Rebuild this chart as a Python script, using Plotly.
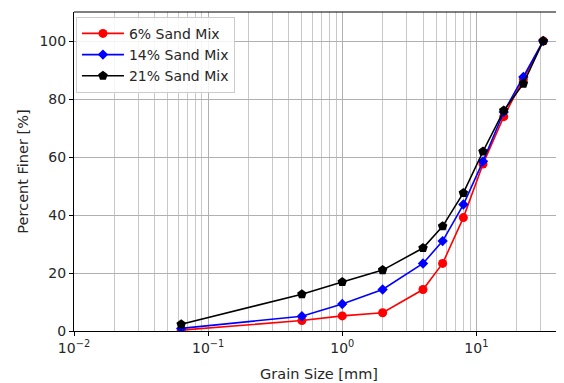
import numpy as np
import plotly.graph_objects as go

grain_size = [0.063, 0.5, 1, 2, 4, 5.6, 8, 11.2, 16, 22.4, 31.5]
sand6 = [0.3, 3.6, 5.2, 6.3, 14.3, 23.3, 39.1, 57.6, 73.9, 86.7, 100]
sand14 = [0.9, 5.1, 9.3, 14.3, 23.3, 31.0, 43.6, 58.5, 75.5, 87.6, 100]
sand21 = [2.3, 12.7, 16.9, 21.0, 28.6, 36.1, 47.6, 61.9, 76.0, 85.3, 100]
series_names = ["6% Sand Mix", "14% Sand Mix", "21% Sand Mix"]
x_tick_vals = [0.01, 0.1, 1, 10, 100]
x_tick_text = ["10<sup>−2</sup>", "10<sup>−1</sup>", "10<sup>0</sup>", "10<sup>1</sup>", "10<sup>2</sup>"]
y_tick_vals = [0, 20, 40, 60, 80, 100]

minor_vals = [m * 10.0 ** e for e in range(-2, 2) for m in range(2, 10)]

fig = go.Figure()
styles = [("red", "circle", 9), ("blue", "diamond", 8), ("black", "pentagon", 10)]
for name, ys, (c, sym, sz) in zip(series_names, [sand6, sand14, sand21], styles):
    fig.add_trace(go.Scatter(x=grain_size, y=ys, mode="lines+markers", name=name,
                             line=dict(color=c, width=1.6),
                             marker=dict(color=c, symbol=sym, size=sz, line=dict(width=0))))

# page body has an 8px margin; size the figure so the plot lands where the reference has it
fig.update_layout(
    width=556, height=375,
    margin=dict(l=66, r=0, t=4, b=52),
    paper_bgcolor="white", plot_bgcolor="white",
    font=dict(family="DejaVu Sans", size=14, color="#262626"),
    legend=dict(x=0.004, y=0.985, xanchor="left", yanchor="top",
                bgcolor="rgba(255,255,255,0.85)", bordercolor="#cccccc", borderwidth=1,
                font=dict(size=14), itemwidth=42, tracegroupgap=0),
    showlegend=True,
)
fig.update_xaxes(type="log", range=[-2, np.log10(45)], automargin=False,
                 tickvals=x_tick_vals, ticktext=x_tick_text,
                 ticks="outside", ticklen=4, tickcolor="black",
                 showline=True, linecolor="black", linewidth=1, mirror=False,
                 showgrid=True, gridcolor="#b0b0b0", gridwidth=1,
                 minor=dict(tickvals=minor_vals, showgrid=True, gridcolor="#c8c8c8", gridwidth=0.8, ticks=""),
                 title=dict(text="Grain Size [mm]", standoff=14, font=dict(size=14.5)),
                 zeroline=False)
fig.update_yaxes(range=[0, 110], tickvals=y_tick_vals, automargin=False,
                 ticks="outside", ticklen=4, tickcolor="black",
                 showline=True, linecolor="black", linewidth=1, mirror=False,
                 showgrid=True, gridcolor="#b0b0b0", gridwidth=1,
                 title=dict(text="Percent Finer [%]", standoff=7, font=dict(size=14.5)),
                 zeroline=False)
fig.add_shape(type="line", xref="paper", yref="paper", x0=0, x1=1, y0=1, y1=1,
              line=dict(color="black", width=1))

fig.write_html("out.html")
